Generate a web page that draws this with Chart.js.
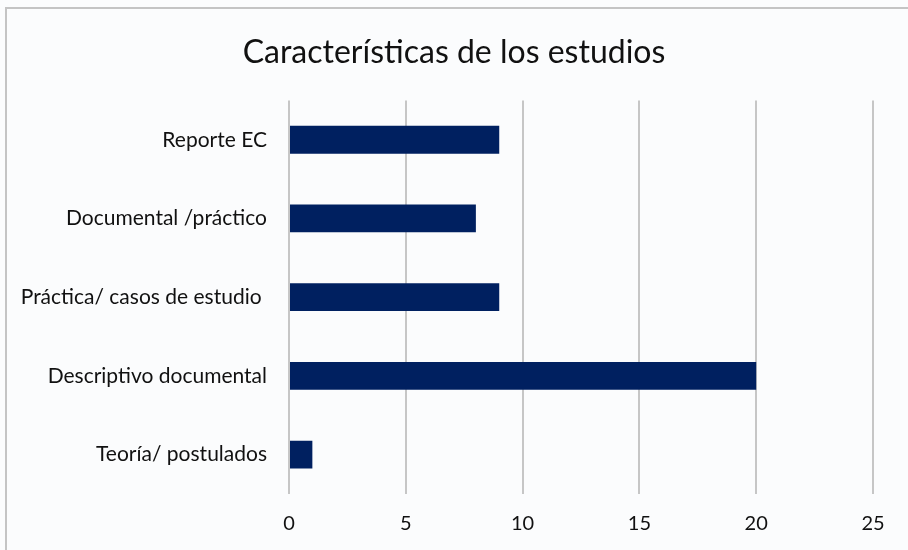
<!DOCTYPE html>
<html>
<head>
<meta charset="utf-8">
<script src="https://cdn.jsdelivr.net/npm/chart.js@4"></script>
<style>
  html, body { margin: 0; padding: 0; background: #fbfcfd; }
  #wrap { position: relative; width: 908px; height: 550px; }
  #frame {
    position: absolute; left: 5px; top: 7px; right: 0; bottom: 0;
    border-top: 2px solid #c4c4c4; border-left: 2px solid #c4c4c4;
    pointer-events: none;
  }
  canvas { display: block; }
</style>
</head>
<body>
<div id="wrap">
  <canvas id="bar-chart" width="908" height="550"></canvas>
  <div id="frame"></div>
</div>
<script>
// Categories, top to bottom as in the picture
const categories = [
  'Reporte EC',
  'Documental /práctico',
  'Práctica/ casos de estudio ',
  'Descriptivo documental',
  'Teoría/ postulados'
];
const values = [9, 8, 9, 20, 1];
const xTicks = [0, 5, 10, 15, 20, 25];

const font = "Lato, 'Open Sans', sans-serif";

const ctx = document.getElementById('bar-chart').getContext('2d');
new Chart(ctx, {
  type: 'bar',
  data: {
    labels: categories,
    datasets: [{
      data: values,
      backgroundColor: '#002060',
      borderWidth: 0,
      barPercentage: 0.72,
      categoryPercentage: 0.49
    }]
  },
  options: {
    indexAxis: 'y',
    responsive: false,
    animation: false,
    layout: { padding: { left: 0, right: 0, top: 0, bottom: 16 } },
    plugins: {
      legend: { display: false },
      tooltip: { enabled: false },
      title: {
        display: true,
        text: 'Características de los estudios',
        color: '#111',
        font: { family: font, size: 32, weight: 'normal' },
        padding: { top: 33, bottom: 29 }
      }
    },
    scales: {
      x: {
        min: xTicks[0],
        max: xTicks[xTicks.length - 1],
        afterBuildTicks: (scale) => { scale.ticks = xTicks.map(v => ({ value: v })); },
        afterFit: (scale) => { scale.height = 40; },
        grid: { color: '#c6c6c6', lineWidth: 2, drawTicks: false },
        border: { display: false },
        ticks: { color: '#111', padding: 18, font: { family: font, size: 20 } }
      },
      y: {
        afterFit: (scale) => { scale.width = 289; },
        grid: { display: false, drawTicks: false },
        border: { display: false },
        ticks: { color: '#111', padding: 22, font: { family: font, size: 21 } }
      },
      // empty spacer on the right so the plot ends before the edge
      yRight: {
        type: 'category',
        position: 'right',
        afterFit: (scale) => { scale.width = 35; },
        grid: { display: false, drawTicks: false },
        border: { display: false },
        ticks: { display: false }
      }
    }
  }
});
</script>
</body>
</html>
